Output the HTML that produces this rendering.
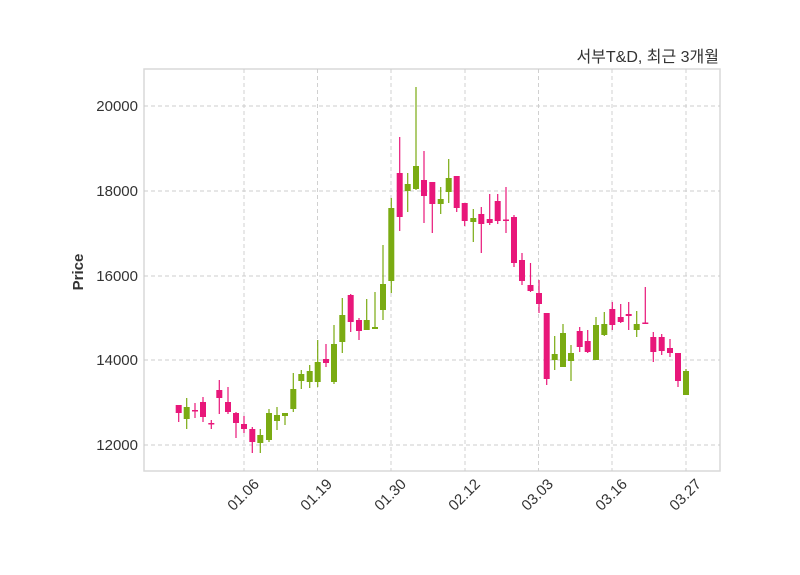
<!DOCTYPE html>
<html><head><meta charset="utf-8"><style>
body{margin:0;background:#fff;}
svg{display:block;font-family:"Liberation Sans","Noto Sans CJK KR",sans-serif;}
</style></head><body>
<svg width="800" height="575" viewBox="0 0 800 575" xmlns="http://www.w3.org/2000/svg">
<rect x="144" y="69" width="576" height="402" fill="#fff" stroke="#d9d9d9" stroke-width="1.5"/>
<g stroke="#cccccc" stroke-width="0.9" stroke-dasharray="4,3">
<line x1="144" y1="106" x2="720" y2="106"/><line x1="144" y1="191" x2="720" y2="191"/>
<line x1="144" y1="276" x2="720" y2="276"/><line x1="144" y1="360" x2="720" y2="360"/>
<line x1="144" y1="445" x2="720" y2="445"/>
<line x1="244" y1="69" x2="244" y2="471"/><line x1="317.5" y1="69" x2="317.5" y2="471"/>
<line x1="391" y1="69" x2="391" y2="471"/><line x1="465" y1="69" x2="465" y2="471"/>
<line x1="538.5" y1="69" x2="538.5" y2="471"/><line x1="612" y1="69" x2="612" y2="471"/>
<line x1="686" y1="69" x2="686" y2="471"/>
</g>
<g font-size="15" fill="#333" text-anchor="end">
<text x="138" y="111">20000</text><text x="138" y="196">18000</text>
<text x="138" y="281">16000</text><text x="138" y="365">14000</text><text x="138" y="450">12000</text>
</g>
<g font-size="15" fill="#333" text-anchor="end">
<text transform="translate(260,485) rotate(-45)">01.06</text>
<text transform="translate(333,485) rotate(-45)">01.19</text>
<text transform="translate(407,485) rotate(-45)">01.30</text>
<text transform="translate(481,485) rotate(-45)">02.12</text>
<text transform="translate(554,485) rotate(-45)">03.03</text>
<text transform="translate(628,485) rotate(-45)">03.16</text>
<text transform="translate(702,485) rotate(-45)">03.27</text>
</g>
<text transform="translate(83,272) rotate(-90)" font-size="15" font-weight="bold" fill="#333" text-anchor="middle">Price</text>
<text x="719" y="62" font-size="16" fill="#333" text-anchor="end">서부T&amp;D, 최근 3개월</text>

<g stroke="#e8177a" stroke-width="1.2" fill="none">
<path d="M178.7 405V422M195 403V418M203 397V422M211.3 420V429M219.3 380V414M228 387V414M236 412V438M244 416V433M252.3 427V453M326 344V367M350.7 294V332M359 318V340M399.7 137V231M424 151V223M432.3 182V233M456.7 176V212M464.7 203V226M481.3 207V253M489.7 194V225M497.7 194V224M506 187V233M514 215V267M522 253V285M530.5 263V292M539 280V313M546.7 313V385M579.7 327V352M587.7 330V353M612.3 302V330M620.7 304V323M628.7 302V330M645.3 287V324M653.3 332V362M661.7 334V355M670 339V357M678 353V387"/>
</g>
<g fill="#e8177a">
<rect x="175.7" y="405" width="6" height="8"/><rect x="192" y="410" width="6" height="1.5"/>
<rect x="200" y="402" width="6" height="15"/><rect x="208.3" y="423" width="6" height="1.5"/>
<rect x="216.3" y="390" width="6" height="8"/><rect x="225" y="402" width="6" height="10"/>
<rect x="233" y="413" width="6" height="10"/><rect x="241" y="424" width="6" height="5"/>
<rect x="249.3" y="429" width="6" height="13"/><rect x="323" y="359" width="6" height="4"/>
<rect x="347.7" y="295" width="6" height="27"/><rect x="356" y="320" width="6" height="11"/>
<rect x="396.7" y="173" width="6" height="44"/><rect x="421" y="180" width="6" height="16"/>
<rect x="429.3" y="182" width="6" height="22"/><rect x="453.7" y="176" width="6" height="32"/>
<rect x="461.7" y="203" width="6" height="18"/><rect x="478.3" y="214" width="6" height="10"/>
<rect x="486.7" y="219" width="6" height="4"/><rect x="494.7" y="201" width="6" height="20"/>
<rect x="503" y="219.5" width="6" height="1.5"/><rect x="511" y="217" width="6" height="46"/>
<rect x="519" y="260" width="6" height="21"/><rect x="527.5" y="285" width="6" height="6"/>
<rect x="536" y="293" width="6" height="11"/><rect x="543.7" y="313" width="6" height="66"/>
<rect x="576.7" y="331" width="6" height="16"/><rect x="584.7" y="341" width="6" height="11"/>
<rect x="609.3" y="309" width="6" height="16"/><rect x="617.7" y="317" width="6" height="5"/>
<rect x="625.7" y="314" width="6" height="2"/><rect x="642.3" y="322.5" width="6" height="1.5"/>
<rect x="650.3" y="337" width="6" height="15"/><rect x="658.7" y="337" width="6" height="14"/>
<rect x="667" y="348" width="6" height="5"/><rect x="675" y="353" width="6" height="28"/>
</g>
<g stroke="#7aab12" stroke-width="1.2" fill="none">
<path d="M186.7 398V429M260.3 429V453M269 409V442M277 407V430M285 413V425M293.3 373V412M301.3 370V389M309.7 365V388M317.7 340V387M334 325V384M342.3 298V353M366.7 299V330M375 292V329M383 245V320M391.3 198V293M407.7 173V212M416 87V190M440.7 187V214M448.7 159V203M473.3 209V242M554.7 336V370M563 324V367M571 345V381M596 317V360M604.3 312V336M636.7 311V337M686 369V395"/>
</g>
<g fill="#7aab12">
<rect x="183.7" y="407" width="6" height="12"/><rect x="257.3" y="435" width="6" height="8"/>
<rect x="266" y="413" width="6" height="27"/><rect x="274" y="415" width="6" height="6"/>
<rect x="282" y="413" width="6" height="3"/><rect x="290.3" y="389" width="6" height="20"/>
<rect x="298.3" y="374" width="6" height="7"/><rect x="306.7" y="371" width="6" height="11"/>
<rect x="314.7" y="362" width="6" height="20"/><rect x="331" y="344" width="6" height="38"/>
<rect x="339.3" y="315" width="6" height="27"/><rect x="363.7" y="320" width="6" height="10"/>
<rect x="372" y="327" width="6" height="2"/><rect x="380" y="284" width="6" height="26"/>
<rect x="388.3" y="208" width="6" height="73"/><rect x="404.7" y="184" width="6" height="7"/>
<rect x="413" y="166" width="6" height="23"/><rect x="437.7" y="199" width="6" height="5"/>
<rect x="445.7" y="178" width="6" height="14"/><rect x="470.3" y="218" width="6" height="4"/>
<rect x="551.7" y="354" width="6" height="6"/><rect x="560" y="333" width="6" height="34"/>
<rect x="568" y="353" width="6" height="8"/><rect x="593" y="325" width="6" height="35"/>
<rect x="601.3" y="324" width="6" height="11"/><rect x="633.7" y="324" width="6" height="6"/>
<rect x="683" y="371" width="6" height="24"/>
</g>
</svg>
</body></html>
